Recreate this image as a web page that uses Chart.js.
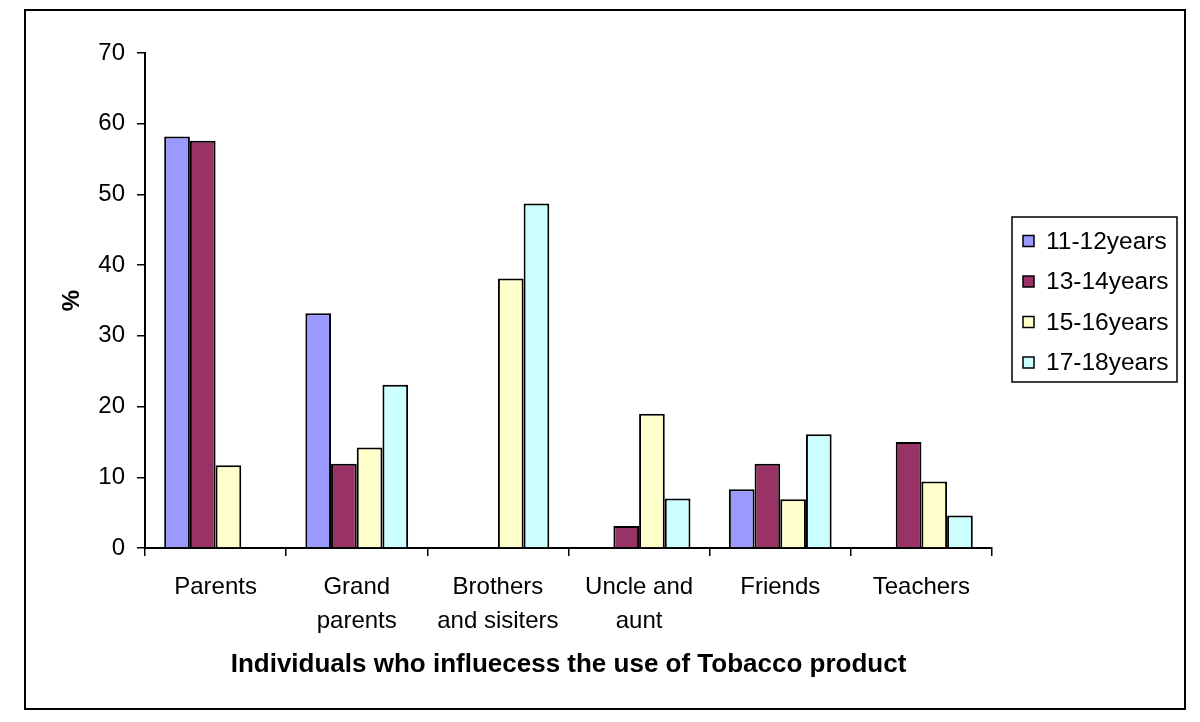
<!DOCTYPE html>
<html>
<head>
<meta charset="utf-8">
<script src="https://cdn.jsdelivr.net/npm/chart.js@4/dist/chart.umd.min.js"></script>
<style>
  html, body { margin: 0; padding: 0; background: #fff; }
  #wrap { width: 1200px; height: 722px; position: relative; }
</style>
</head>
<body>
<div id="wrap"><canvas id="c" width="1200" height="722"></canvas></div>
<script>
const categories = [
  "Parents",
  ["Grand", "parents"],
  ["Brothers", "and sisiters"],
  ["Uncle and", "aunt"],
  "Friends",
  "Teachers"
];
const seriesNames = ["11-12years", "13-14years", "15-16years", "17-18years"];
const age11_12 = [58.2, 33.2, null, null, 8.3, null];
const age13_14 = [57.6, 11.9, null, 3.1, 11.9, 15.0];
const age15_16 = [11.7, 14.2, 38.1, 19.0, 6.9, 9.4];
const age17_18 = [null, 23.1, 48.7, 7.0, 16.1, 4.6];
const yTicks = [0, 10, 20, 30, 40, 50, 60, 70];
const colors = ["#9999FF", "#993366", "#FFFFCC", "#CCFFFF"];

const FONT = "'Liberation Sans', Arial, sans-serif";
const seriesValues = [age11_12, age13_14, age15_16, age17_18];

const framePlugin = {
  id: 'frame',
  beforeDraw(chart) {
    const ctx = chart.ctx;
    ctx.save();
    ctx.fillStyle = '#fff';
    ctx.fillRect(0, 0, chart.width, chart.height);
    ctx.restore();
  },
  afterDraw(chart) {
    const ctx = chart.ctx;
    ctx.save();
    ctx.strokeStyle = '#000';
    ctx.lineWidth = 2;
    ctx.strokeRect(25, 10, 1160, 699);
    // legend
    const lx = 1012, ly = 217, lw = 165, lh = 165;
    ctx.lineWidth = 1.5;
    ctx.strokeRect(lx, ly, lw, lh);
    ctx.font = "24.5px " + FONT;
    ctx.textBaseline = 'middle';
    ctx.textAlign = 'left';
    chart.data.datasets.forEach((ds, i) => {
      const cy = ly + 24 + i * 40.5;
      ctx.fillStyle = ds.backgroundColor;
      ctx.fillRect(1023, cy - 5.5, 11, 11);
      ctx.strokeStyle = '#000';
      ctx.lineWidth = 1.5;
      ctx.strokeRect(1023, cy - 5.5, 11, 11);
      ctx.fillStyle = '#000';
      ctx.fillText(ds.label, 1046, cy + 1);
    });
    ctx.restore();
  }
};

new Chart(document.getElementById('c'), {
  type: 'bar',
  data: {
    labels: categories,
    datasets: seriesNames.map((name, i) => ({
      label: name,
      data: seriesValues[i],
      backgroundColor: colors[i],
      borderColor: '#000',
      borderWidth: 2,
      categoryPercentage: 0.728,
      barPercentage: 1.0
    }))
  },
  options: {
    responsive: false,
    animation: false,
    devicePixelRatio: 1,
    layout: { padding: { left: 50, right: 208, top: 53, bottom: 42 } },
    plugins: {
      legend: { display: false },
      tooltip: { enabled: false }
    },
    scales: {
      x: {
        grid: {
          display: true, drawOnChartArea: false, drawTicks: true,
          tickLength: 8, color: '#000', lineWidth: 1.5, offset: true
        },
        border: { display: true, color: '#000', width: 2 },
        ticks: {
          color: '#000', padding: 14, maxRotation: 0, autoSkip: false,
          font: { family: FONT, size: 24, lineHeight: '34px' }
        },
        title: {
          display: true,
          text: 'Individuals who influecess the use of Tobacco product',
          color: '#000',
          padding: { top: 0, bottom: 0 },
          font: { family: FONT, size: 26, weight: 'bold' }
        },
        afterFit(scale) { scale.height = 132; }
      },
      y: {
        min: 0, max: 70,
        afterBuildTicks(scale) { scale.ticks = yTicks.map(v => ({ value: v })); },
        grid: {
          display: true, drawOnChartArea: false, drawTicks: true,
          tickLength: 8, color: '#000', lineWidth: 1.5
        },
        border: { display: true, color: '#000', width: 2 },
        ticks: {
          color: '#000', padding: 12,
          font: { family: FONT, size: 24 }
        },
        title: {
          display: true,
          text: '%',
          color: '#000',
          padding: { top: 8, bottom: 0 },
          font: { family: FONT, size: 24, weight: 'bold' }
        },
        afterFit(scale) { scale.width = 95; }
      }
    }
  },
  plugins: [framePlugin]
});
</script>
</body>
</html>
